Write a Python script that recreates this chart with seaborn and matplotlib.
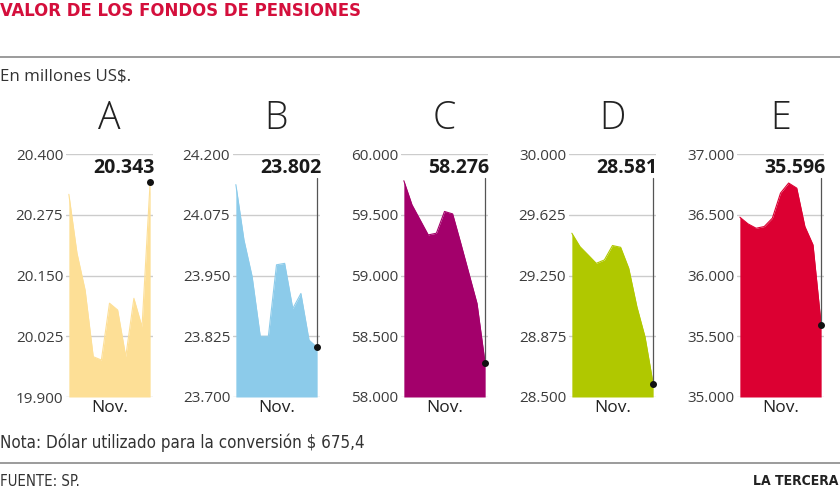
import matplotlib
matplotlib.use("Agg")
import matplotlib.pyplot as plt
from matplotlib import font_manager
import seaborn as sns
import pandas as pd

# values in millions of US$, one per business day of November
funds = ["A", "B", "C", "D", "E"]
fund_a = [20317, 20196, 20120, 19983, 19976, 20093, 20079, 19983, 20103, 20044, 20343]
fund_b = [24137, 24023, 23948, 23825, 23825, 23972, 23975, 23882, 23913, 23817, 23802]
fund_c = [59780, 59582, 59458, 59334, 59348, 59527, 59507, 59266, 59018, 58770, 58276]
fund_d = [29511, 29428, 29377, 29325, 29346, 29435, 29424, 29294, 29057, 28871, 28581]
fund_e = [36480, 36425, 36389, 36403, 36472, 36678, 36761, 36719, 36403, 36252, 35596]
y_ranges = [(19900, 20400), (23700, 24200), (58000, 60000), (28500, 30000), (35000, 37000)]
colors = ["#fddf96", "#8ccbea", "#a3006b", "#b0c800", "#dc0032"]
month_label = "Nov."


def fmt(v):
    return f"{v:,.0f}".replace(",", ".")


def main():
    sns.set_theme(style="white")
    plt.rcParams["font.family"] = ["Open Sans", "DejaVu Sans"]

    # a condensed face for the headline / notes, if there is one
    names = {f.name for f in font_manager.fontManager.ttflist}
    has_cond = any(f.name == "DejaVu Sans" and f.stretch == "condensed"
                   for f in font_manager.fontManager.ttflist)
    if "Liberation Sans Narrow" in names:
        narrow = dict(family="Liberation Sans Narrow")
        scale = 1.0
    elif has_cond:
        narrow = dict(family="DejaVu Sans", fontstretch="condensed")
        scale = 0.92
    else:
        narrow = dict(family="DejaVu Sans")
        scale = 0.82

    fig = plt.figure(figsize=(8.4, 4.92), dpi=100)
    W, H = 840, 492

    fig.text(0, 1 - 11 / H, "VALOR DE LOS FONDOS DE PENSIONES", **narrow,
             fontsize=14.4 * scale, fontweight="bold", color="#d40f3c", va="center", ha="left")
    fig.add_artist(plt.Line2D([0, 1], [1 - 57 / H] * 2, color="#8a8a8a", lw=1.2,
                              transform=fig.transFigure))
    fig.text(0, 1 - 77 / H, "En millones US$.", fontsize=12.2, color="#333333",
             va="center", ha="left")

    series = [fund_a, fund_b, fund_c, fund_d, fund_e]
    lefts = [66, 233, 401, 569, 737]
    for name, vals, (lo, hi), col, left in zip(funds, series, y_ranges, colors, lefts):
        ax = fig.add_axes([left / W, 1 - 397 / H, 87 / W, 243 / H])
        df = pd.DataFrame({"day": range(len(vals)), "value": vals})
        ax.fill_between(df["day"], df["value"], lo, color=col, lw=0, zorder=2)
        sns.lineplot(data=df, x="day", y="value", ax=ax, color=col, lw=0.8, zorder=3)
        ax.set_ylim(lo, hi)
        ax.set_xlim(-0.35, len(vals) - 1 + 0.35)
        ticks = [lo + i * (hi - lo) / 4 for i in range(5)]
        ax.set_yticks(ticks)
        ax.set_yticklabels([fmt(t) for t in ticks], fontsize=11, color="#3c3c3c")
        ax.set_xticks([])
        ax.tick_params(axis="y", length=0, pad=2)
        ax.grid(axis="y", color="#cccccc", lw=1)
        ax.set_axisbelow(True)
        for s in ax.spines.values():
            s.set_visible(False)
        ax.set_xlabel(month_label, fontsize=12.5, color="#222222", labelpad=2)
        ax.set_ylabel("")

        xl = len(vals) - 1
        last = vals[-1]
        frac = (last - lo) / (hi - lo)
        if frac < 0.86:
            ax.axvline(xl, ymin=frac, ymax=0.90, color="#555555", lw=0.9, zorder=4)
        ax.scatter([xl], [last], s=16, color="#111111", zorder=5, clip_on=False)
        ax.annotate(fmt(last), xy=(xl, 0.942), xycoords=("data", "axes fraction"),
                    xytext=(3, 0), textcoords="offset points", ha="right", va="center",
                    fontsize=14, fontweight="bold", color="#1a1a1a")
        ax.text(0.5, 1 + 35 / 243, name, transform=ax.transAxes, ha="center",
                va="center", fontsize=27, fontweight="light", color="#222222")

    fig.text(0, 1 - 443 / H, "Nota: Dólar utilizado para la conversión $ 675,4",
             **narrow, fontsize=13.2 * scale, color="#333333", va="center", ha="left")
    fig.add_artist(plt.Line2D([0, 1], [1 - 463 / H] * 2, color="#8a8a8a", lw=1.2,
                              transform=fig.transFigure))
    fig.text(0, 1 - 481 / H, "FUENTE: SP.", **narrow, fontsize=11.6 * scale,
             color="#333333", va="center", ha="left")
    fig.text(838 / W, 1 - 481 / H, "LA TERCERA", **narrow, fontsize=10.9 * scale,
             fontweight="bold", color="#222222", va="center", ha="right")

    fig.savefig("out.png", dpi=100)


if __name__ == "__main__":
    main()
